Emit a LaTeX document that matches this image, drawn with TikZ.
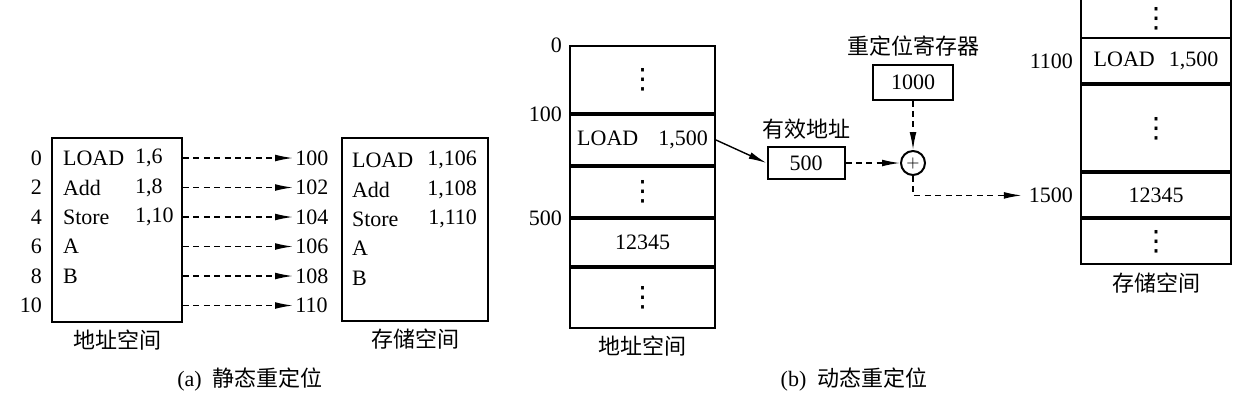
\documentclass[tikz,border=0pt]{standalone}
\usepackage{fontspec}
\setmainfont{Liberation Serif}
\newfontfamily\cjk{Noto Sans CJK SC}
\newfontfamily\symf{DejaVu Sans}
\newcommand{\vdt}{{\symf\fontsize{14}{14}\selectfont ⋮}}
\usetikzlibrary{arrows.meta,positioning}

\begin{document}
\begin{tikzpicture}[
  x=0.5pt,y=-0.5pt,
  font=\fontsize{11}{13}\selectfont,
  node distance=0pt,
  memframe/.style={draw,line width=1pt},
  cellbox/.style={draw,line width=1pt,minimum width=72.5pt,inner sep=0pt},
  regbox/.style={draw,line width=1pt,minimum height=16pt,inner sep=0pt},
  cntext/.style={font=\cjk\fontsize{11}{13}\selectfont},
  dasharr/.style={-{Latex[length=9pt,width=3.4pt]},line width=0.7pt,dash pattern=on 3pt off 2.2pt},
  solarr/.style={-{Latex[length=9pt,width=3.4pt]},line width=0.7pt}
]
\useasboundingbox (0,0) rectangle (1240,404);

% (a) 静态重定位
\node[memframe,minimum width=65pt,minimum height=92pt] (la) at (117,230) {};
\node[memframe,minimum width=73pt,minimum height=91.5pt] (pa) at (415,229.5) {};
\foreach \adr/\ins/\opl/\opp [count=\i from 0] in {0/LOAD/{1,6}/{1,106},2/Add/{1,8}/{1,108},4/Store/{1,10}/{1,110},6/A//,8/B//,10///}{
  \node[anchor=east] (n\adr) at (49,158+29.5*\i) {\adr};
  \node[anchor=west] (li\i) at (56,158+29.5*\i) {\ins};
  \node[anchor=west] (lo\i) at (128,158+29.5*\i) {\opl};
  \node[anchor=west,inner sep=1pt] (t\adr) at (293,158+29.5*\i) {\the\numexpr100+\adr\relax};
  \draw[dasharr] (la.east |- n\adr) -- (t\adr);
  \node[anchor=west] (pi\i) at (345,160+29.5*\i) {\ins};
  \node[anchor=east] (po\i) at (484,160+29.5*\i) {\opp};
}
\node[cntext,below=of la] (lan) {地址空间};
\node[cntext,below=of pa] (pan) {存储空间};
\node (capa) at (250,380) {(a)\enspace{\cjk 静态重定位}};

% (b) 动态重定位
\node[cellbox,minimum height=33.5pt] (b1) at (642.5,79.5) {\vdt};
\node[cellbox,minimum height=25pt,below=of b1] (b2) {LOAD\hspace{10pt}1,500};
\node[cellbox,minimum height=25pt,below=of b2] (b3) {\vdt};
\node[cellbox,minimum height=23.5pt,below=of b3] (b4) {12345};
\node[cellbox,minimum height=30pt,below=of b4] (b5) {\vdt};
\node[left=of b1.north west] (m0) {0};
\node[left=of b2.north west] (m100) {100};
\node[left=of b4.north west] (m500) {500};
\node[cntext,below=of b5] (bn) {地址空间};

\node[regbox,minimum width=38.5pt] (eff) at (806,163) {500};
\node[cntext,above=of eff] (effl) {有效地址};
\node[regbox,minimum width=40pt,minimum height=17.5pt] (reg) at (913,82) {1000};
\node[cntext,above=of reg] (regl) {重定位寄存器};
\node[circle,draw,line width=1pt,minimum size=12pt,inner sep=0pt,font=\fontsize{8}{8}\selectfont] (plus) at (reg |- eff) {$+$};

\node[minimum width=75pt,minimum height=18.5pt,inner sep=0pt] (s1) at (1156,18.5) {\vdt};
\draw[line width=1pt] (s1.north west) -- (s1.south west) (s1.north east) -- (s1.south east);
\node[cellbox,minimum width=75pt,minimum height=22.5pt,below=of s1] (s2) {LOAD\hspace{7pt}1,500};
\node[cellbox,minimum width=75pt,minimum height=43pt,below=of s2] (s3) {\vdt};
\node[cellbox,minimum width=75pt,minimum height=22pt,below=of s3] (s4) {12345};
\node[cellbox,minimum width=75pt,minimum height=22.5pt,below=of s4] (s5) {\vdt};
\node[left=of s2.west] (m1100) {1100};
\node[left=of s4.west] (m1500) {1500};
\node[cntext,below=of s5] (sn) {存储空间};

\draw[solarr] (b2.east) -- (eff.west);
\draw[dasharr] (reg) -- (plus);
\draw[dasharr] (eff) -- (plus);
\draw[dasharr] (plus.south) |- (m1500.west);
\node (capb) at (854,380) {(b)\enspace{\cjk 动态重定位}};
\end{tikzpicture}
\end{document}
